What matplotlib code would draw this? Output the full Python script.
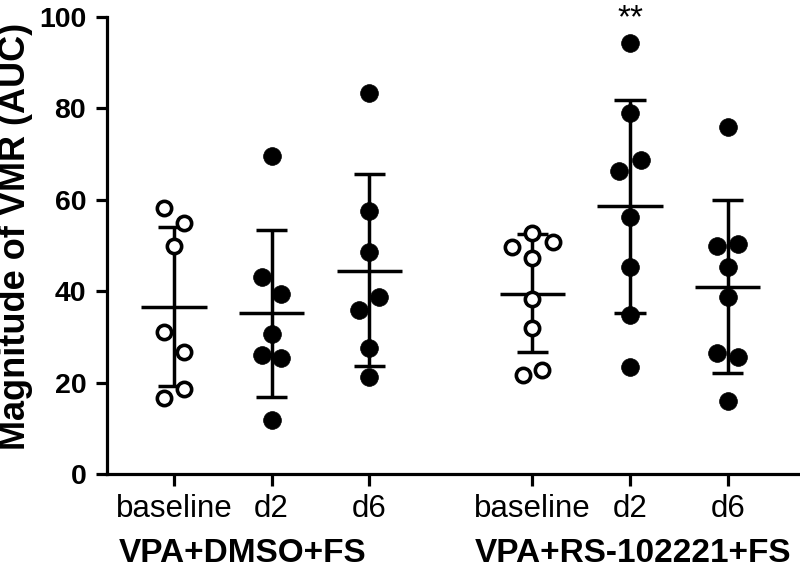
"""VMR magnitude (AUC) scatter with mean +/- SD, two treatment groups x three time points."""
import matplotlib
matplotlib.use("Agg")
import matplotlib.pyplot as plt
from matplotlib.transforms import blended_transform_factory

# ---- data ----
TICK_LABELS = ["baseline", "d2", "d6", "baseline", "d2", "d6"]
GROUP_LABELS = ["VPA+DMSO+FS", "VPA+RS-102221+FS"]

dmso_baseline = [58.1, 54.9, 49.9, 31.0, 26.7, 18.6, 16.6]
dmso_d2 = [69.6, 43.0, 39.4, 30.6, 26.0, 25.3, 11.8]
dmso_d6 = [83.3, 57.5, 48.5, 38.7, 35.9, 27.5, 21.3]
rs_baseline = [52.7, 50.8, 49.7, 47.2, 38.2, 31.9, 22.8, 21.7]
rs_d2 = [94.3, 78.9, 68.7, 66.4, 56.2, 45.2, 34.8, 23.5]
rs_d6 = [76.0, 50.3, 49.9, 45.2, 38.7, 26.4, 25.7, 16.0]

# horizontal jitter of each dot (as drawn in the original)
dmso_baseline_dx = [-0.1, 0.1, 0.0, -0.1, 0.1, 0.1, -0.1]
dmso_d2_dx = [0.0, -0.1, 0.1, 0.0, -0.1, 0.1, 0.0]
dmso_d6_dx = [0.0, 0.0, 0.0, 0.1, -0.1, 0.0, 0.0]
rs_baseline_dx = [0.0, 0.21, -0.21, 0.0, 0.0, 0.0, 0.1, -0.1]
rs_d2_dx = [0.0, 0.0, 0.11, -0.11, 0.0, 0.0, 0.0, 0.0]
rs_d6_dx = [0.0, 0.11, -0.11, 0.0, 0.0, -0.11, 0.11, 0.0]

# mean and mean +/- SD
MEANS = [36.6, 35.2, 44.5, 39.4, 58.6, 41.0]
SD_HI = [54.1, 53.5, 65.6, 52.5, 81.8, 60.0]
SD_LO = [19.3, 16.8, 23.6, 26.6, 35.2, 22.2]

POSITIONS = [0, 1, 2, 3.67, 4.67, 5.67]
FILLED = [False, True, True, False, True, True]
SIG = {4: "**"}

SERIES = [
    (dmso_baseline, dmso_baseline_dx),
    (dmso_d2, dmso_d2_dx),
    (dmso_d6, dmso_d6_dx),
    (rs_baseline, rs_baseline_dx),
    (rs_d2, rs_d2_dx),
    (rs_d6, rs_d6_dx),
]

plt.rcParams.update({
    "font.family": ["Liberation Sans", "DejaVu Sans"],
    "axes.linewidth": 2.3,
    "axes.spines.top": False,
    "axes.spines.right": False,
    "xtick.major.width": 2.3,
    "ytick.major.width": 2.3,
    "xtick.major.size": 8.5,
    "ytick.major.size": 8.0,
})

LW = 2.5
MEAN_HALF = 0.335
CAP_HALF = 0.16


def main() -> None:
    fig = plt.figure(figsize=(8.0, 5.68), dpi=100)
    ax = fig.add_axes([107 / 800, 94 / 568, 1 - 107 / 800, (474 - 17) / 568])

    for pos, (vals, dx), mean, hi, lo, filled in zip(
            POSITIONS, SERIES, MEANS, SD_HI, SD_LO, FILLED):
        # SD whisker + caps, mean bar
        ax.vlines(pos, lo, hi, color="black", lw=LW, zorder=2)
        ax.hlines([lo, hi], pos - CAP_HALF, pos + CAP_HALF, color="black", lw=LW, zorder=2)
        ax.hlines(mean, pos - MEAN_HALF, pos + MEAN_HALF, color="black", lw=LW, zorder=2)
        xs = [pos + d for d in dx]
        if filled:
            ax.plot(xs, vals, ls="none", marker="o", ms=12.8, mfc="black",
                    mec="black", mew=0.5, zorder=3, clip_on=False)
        else:
            ax.plot(xs, vals, ls="none", marker="o", ms=10.3, mfc="white",
                    mec="black", mew=2.6, zorder=3, clip_on=False)

    for idx, mark in SIG.items():
        ax.text(POSITIONS[idx], 97.8, mark, ha="center", va="baseline",
                fontsize=24, clip_on=False)

    ax.set_xlim(-0.685, 6.41)
    ax.set_ylim(0, 100)
    ax.set_yticks([0, 20, 40, 60, 80, 100])
    ax.set_xticks(POSITIONS)
    ax.set_xticklabels(TICK_LABELS, fontsize=22.5)
    ax.tick_params(axis="x", pad=6)
    ax.tick_params(axis="y", labelsize=20.5, pad=7)
    for lab in ax.get_yticklabels():
        lab.set_fontweight("bold")

    trans = blended_transform_factory(ax.transData, fig.transFigure)
    for x, lab in zip([0.70, 4.70], GROUP_LABELS):
        ax.text(x, 6 / 568, lab, transform=trans, ha="center", va="baseline",
                fontsize=24, fontweight="bold", clip_on=False)

    fig.text(16 / 800, (568 - 236.5) / 568, "Magnitude of VMR (AUC)",
             rotation=90, ha="center", va="center", fontsize=26, fontweight="bold")

    fig.savefig("out.png", dpi=100)
    plt.close(fig)


if __name__ == "__main__":
    main()
